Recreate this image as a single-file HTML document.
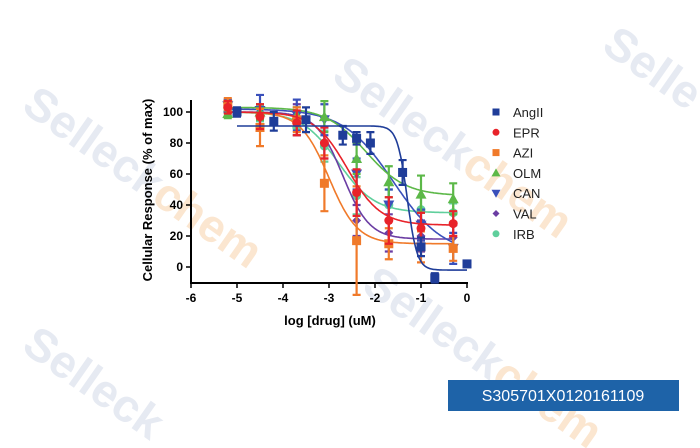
<!DOCTYPE html>
<html><head><meta charset="utf-8"><style>
html,body{margin:0;background:#fff;width:700px;height:448px;overflow:hidden;}
svg{display:block;font-family:"Liberation Sans",Arial,sans-serif;overflow:hidden;}
</style></head><body>
<svg id="c" width="700" height="448" viewBox="0 0 700 448">
<g id="wm" fill="#e6eaf2" font-weight="bold" font-size="46">
<text x="20" y="110" transform="rotate(35 20 110)">Selleck<tspan fill="#fbe6d0">chem</tspan></text>
<text x="330" y="80" transform="rotate(35 330 80)">Selleck<tspan fill="#fbe6d0">chem</tspan></text>
<text x="360" y="290" transform="rotate(35 360 290)">Selleck<tspan fill="#fbe6d0">chem</tspan></text>
<text x="20" y="350" transform="rotate(35 20 350)">Selleck</text>
<text x="600" y="50" transform="rotate(35 600 50)">Selle</text>
</g>
<g id="plot"></g>
<g font-size="13" fill="#222" id="legend"></g>
<rect x="448" y="380" width="231" height="31" fill="#1e63a8"/>
<text x="563" y="401" text-anchor="middle" fill="#fff" font-size="16">S305701X0120161109</text>
</svg>
<script>
const names=["AngII","EPR","AZI","OLM","CAN","VAL","IRB"];
const colors=["#1f3d99","#e8232a","#f07a2a","#5cb848","#3a50bb","#6b3da3","#5fcf9c"];
const tops=[91,100,100,103,102,100,100];
const bottoms=[-2,27,15,46,8,18,35];
const logEC50=[-1.3,-2.6,-3.0,-2.2,-1.6,-2.7,-2.8];
const hills=[4,1.2,1.4,1,0.8,1.5,1.1];
const xs=[[-5,-4.2,-3.5,-2.7,-2.4,-2.1,-1.4,-1,-0.7,0],[-5.2,-4.5,-3.7,-3.1,-2.4,-1.7,-1,-0.3],[-5.2,-4.5,-3.7,-3.1,-2.4,-1.7,-1,-0.3],[-5.2,-4.5,-3.7,-3.1,-2.4,-1.7,-1,-0.3],[-5.2,-4.5,-3.7,-3.1,-2.4,-1.7,-1,-0.3],[-5.2,-3.7,-3.1,-2.4,-1.7,-1,-0.3],[-5.2,-4.5,-3.7,-3.1,-2.4,-1.7,-1,-0.3]];
const ys=[[100,94,95,85,83,80,61,13,-7,2],[103,97,93,80,48,30,25,28],[105,90,95,54,17,15,13,12],[99,100,98,97,70,55,47,44],[104,101,98,95,60,40,27,12],[104,95,80,30,22,20,19],[100,99,90,78,46,40,37,35]];
const errs=[[3,6,8,6,4,7,8,6,3,2],[4,8,8,10,15,15,10,8],[4,12,8,18,35,10,10,8],[3,5,5,10,10,10,12,10],[4,10,10,10,10,10,10,10],[4,10,10,10,12,10,8],[3,5,5,10,12,10,8,6]];
const xTicks=[-6,-5,-4,-3,-2,-1,0];
const yTicks=[0,20,40,60,80,100];
const X=v=>191+(v+6)*46, Y=v=>267-v*1.55;
const NS="http://www.w3.org/2000/svg";
const P=document.getElementById('plot');
function mk(t,a,p){const e=document.createElementNS(NS,t);for(const k in a)e.setAttribute(k,a[k]);(p||P).appendChild(e);return e;}
let e=mk('line',{x1:191,y1:100,x2:191,y2:283,stroke:'#000','stroke-width':2});


e=mk('line',{x1:190,y1:283,x2:468,y2:283,stroke:'#000','stroke-width':2});


xTicks.forEach(t=>{mk('line',{x1:X(t),y1:283,x2:X(t),y2:288,stroke:'#000','stroke-width':1.5});
 e=mk('text',{x:X(t),y:302,'text-anchor':'middle','font-size':12,'font-weight':'bold'});e.textContent=t;
 
 });
yTicks.forEach(t=>{mk('line',{x1:186,y1:Y(t),x2:191,y2:Y(t),stroke:'#000','stroke-width':1.5});
 e=mk('text',{x:183,y:Y(t)+4,'text-anchor':'end','font-size':12,'font-weight':'bold'});e.textContent=t;
 
 });
e=mk('text',{x:330,y:325,'text-anchor':'middle','font-size':13,'font-weight':'bold'});e.textContent='log [drug] (uM)';


e=mk('text',{x:152,y:190,'text-anchor':'middle','font-size':13,'font-weight':'bold',transform:'rotate(-90 152 190)'});e.textContent='Cellular Response (% of max)';


function marker(i,x,y,g,s){const c=colors[i];s=s||4;
 if(i==0||i==2)return mk('rect',{x:x-s,y:y-s,width:2*s,height:2*s,fill:c},g);
 if(i==1||i==6)return mk('circle',{cx:x,cy:y,r:s,fill:c},g);
 if(i==3)return mk('polygon',{points:`${x},${y-s-1} ${x+s+1},${y+s} ${x-s-1},${y+s}`,fill:c},g);
 if(i==4)return mk('polygon',{points:`${x},${y+s+1} ${x+s+1},${y-s} ${x-s-1},${y-s}`,fill:c},g);
 return mk('polygon',{points:`${x},${y-s} ${x+s},${y} ${x},${y+s} ${x-s},${y}`,fill:c},g);}
for(let i=6;i>=0;i--){
 const g=mk('g',{});
 
 
 let d='';const x0=i==0?-5:-5.2;
 for(let v=x0;v<=-0.3+1e-9||(i==0&&v<=0);v+=0.02){const yv=bottoms[i]+(tops[i]-bottoms[i])/(1+Math.pow(10,(v-logEC50[i])*hills[i]));d+=(d?'L':'M')+X(v).toFixed(1)+','+Y(yv).toFixed(1);}
 const cv=mk('path',{d:d,fill:'none',stroke:colors[i],'stroke-width':1.6},g);
 
 
 xs[i].forEach((xv,j)=>{const px=X(xv),y1=Y(ys[i][j]+errs[i][j]),y2=Y(ys[i][j]-errs[i][j]);
  mk('path',{d:`M${px},${y1}V${y2}M${px-4},${y1}H${px+4}M${px-4},${y2}H${px+4}`,stroke:colors[i],'stroke-width':2.2,fill:'none'},g);
  const m=marker(i,px,Y(ys[i][j]),g,4.5);
  
  });
}
const L=document.getElementById('legend');
names.forEach((n,i)=>{const y=112+i*20.3;const m=marker(i,496,y,L,3.5);
 
 
 const t=mk('text',{x:513,y:y+5},L);t.textContent=n;
 
 });
</script>
</body></html>
